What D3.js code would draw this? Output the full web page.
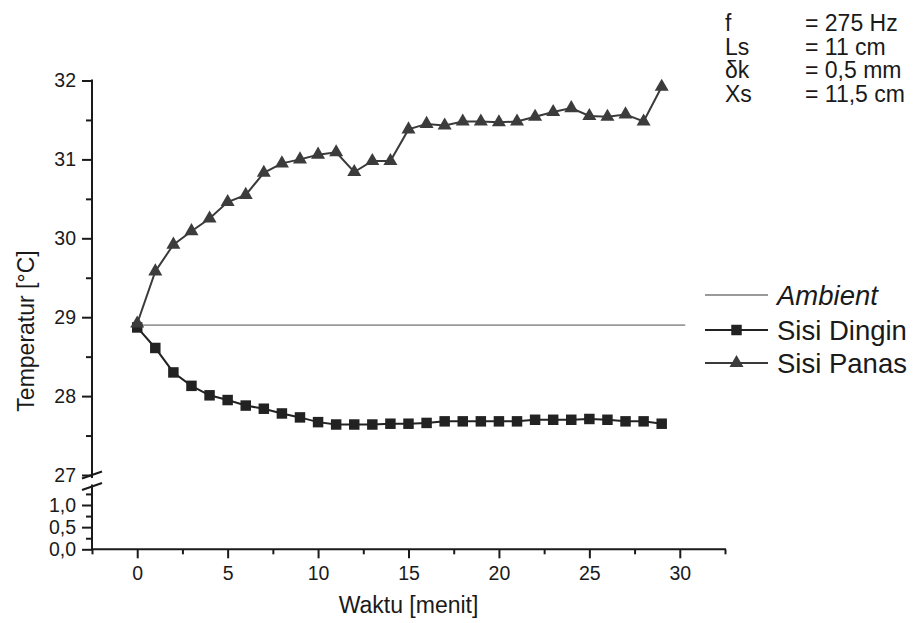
<!DOCTYPE html>
<html>
<head>
<meta charset="utf-8">
<script src="https://cdn.jsdelivr.net/npm/d3@7"></script>
<style>
  body { margin: 0; background: #fff; }
  svg { display: block; }
  text { font-family: "Liberation Sans", Arial, sans-serif; }
</style>
</head>
<body>
<svg id="chart" width="916" height="623"></svg>
<script>
// Measurement time (minutes)
const minutes = [0, 1, 2, 3, 4, 5, 6, 7, 8, 9, 10, 11, 12, 13, 14,
                 15, 16, 17, 18, 19, 20, 21, 22, 23, 24, 25, 26, 27, 28, 29];
// Hot side temperature (°C)
const hotSide = [28.92, 29.58, 29.92, 30.09, 30.25, 30.46, 30.55, 30.83, 30.95, 31.00,
                 31.06, 31.09, 30.84, 30.98, 30.98, 31.38, 31.45, 31.43, 31.48, 31.48,
                 31.47, 31.48, 31.54, 31.60, 31.65, 31.55, 31.54, 31.57, 31.48, 31.92];
// Cold side temperature (°C)
const coldSide = [28.87, 28.61, 28.30, 28.13, 28.01, 27.95, 27.88, 27.84, 27.78, 27.73,
                  27.67, 27.64, 27.64, 27.64, 27.65, 27.65, 27.66, 27.68, 27.68, 27.68,
                  27.68, 27.68, 27.70, 27.70, 27.70, 27.71, 27.70, 27.68, 27.68, 27.65];
// Ambient reference line
const ambientMinutes = [0, 30.3];
const ambientTemp = [28.9, 28.9];

const xMajorTicks = [0, 5, 10, 15, 20, 25, 30];
const xMinorTicks = [-2.5, 2.5, 7.5, 12.5, 17.5, 22.5, 27.5, 32.5];
const upperMajorTicks = [27, 28, 29, 30, 31, 32];
const upperMinorTicks = [27.5, 28.5, 29.5, 30.5, 31.5];
const lowerMajorTicks = [0, 0.5, 1.0];
const lowerMinorTicks = [0.25, 0.75, 1.25];

const paramNames = ["f", "Ls", "\u03B4k", "Xs"];
const paramValues = ["= 275 Hz", "= 11 cm", "= 0,5 mm", "= 11,5 cm"];
const legendLabels = ["Ambient", "Sisi Dingin", "Sisi Panas"];

const svg = d3.select("#chart");
const ink = "#1a1a1a";
const tickFont = "19.5px";

// Scales: one x scale, y split into an upper (27–32) and a lower (0–1) segment
const x = d3.scaleLinear().domain([-2.5, 32.5]).range([92, 725]);
const yUp = d3.scaleLinear().domain([27, 32]).range([475, 80.5]);
const yLow = d3.scaleLinear().domain([0, 1]).range([549.3, 505]);

const upperBottom = 478;   // where the upper segment of the y axis stops
const lowerTop = 484.5;    // where the lower segment restarts

const commaFmt = d3.formatLocale({decimal: ",", thousands: ".", grouping: [3], currency: ["", ""]}).format(".1f");

function styleAxis(g) {
  g.select(".domain").remove();
  g.selectAll(".tick line").attr("stroke", ink).attr("stroke-width", 2);
  g.selectAll(".tick text").attr("fill", ink).style("font-size", tickFont)
    .style("font-family", "'Liberation Sans', Arial, sans-serif");
}

// X axis
const xAxisY = yLow(0);
svg.append("g").attr("transform", `translate(0,${xAxisY})`)
  .call(d3.axisBottom(x).tickValues(xMajorTicks).tickSize(9).tickPadding(8).tickFormat(d3.format("d")))
  .call(styleAxis);
svg.append("g").attr("transform", `translate(0,${xAxisY})`)
  .call(d3.axisBottom(x).tickValues(xMinorTicks).tickSize(5).tickFormat(""))
  .call(styleAxis);
svg.append("line")
  .attr("x1", x(-2.5) - 1).attr("x2", x(32.5) + 1)
  .attr("y1", xAxisY).attr("y2", xAxisY)
  .attr("stroke", ink).attr("stroke-width", 2);

// Y axis, upper segment
const axisX = x(-2.5);
svg.append("g").attr("transform", `translate(${axisX},0)`)
  .call(d3.axisLeft(yUp).tickValues(upperMajorTicks).tickSize(10).tickPadding(6).tickFormat(d3.format("d")))
  .call(styleAxis);
svg.append("g").attr("transform", `translate(${axisX},0)`)
  .call(d3.axisLeft(yUp).tickValues(upperMinorTicks).tickSize(6).tickFormat(""))
  .call(styleAxis);
svg.append("line")
  .attr("x1", axisX).attr("x2", axisX)
  .attr("y1", yUp(32) - 1).attr("y2", upperBottom)
  .attr("stroke", ink).attr("stroke-width", 2);

// Y axis, lower segment
svg.append("g").attr("transform", `translate(${axisX},0)`)
  .call(d3.axisLeft(yLow).tickValues(lowerMajorTicks).tickSize(10).tickPadding(6).tickFormat(commaFmt))
  .call(styleAxis);
svg.append("g").attr("transform", `translate(${axisX},0)`)
  .call(d3.axisLeft(yLow).tickValues(lowerMinorTicks).tickSize(6).tickFormat(""))
  .call(styleAxis);
svg.append("line")
  .attr("x1", axisX).attr("x2", axisX)
  .attr("y1", lowerTop).attr("y2", xAxisY)
  .attr("stroke", ink).attr("stroke-width", 2);

// Axis break marks
[upperBottom - 3, lowerTop + 2].forEach(cy => {
  svg.append("line")
    .attr("x1", axisX - 10).attr("y1", cy + 3.5)
    .attr("x2", axisX + 10).attr("y2", cy - 3.5)
    .attr("stroke", ink).attr("stroke-width", 2);
});

// Axis titles
svg.append("text")
  .attr("x", (x(-2.5) + x(32.5)) / 2).attr("y", 613)
  .attr("text-anchor", "middle").attr("fill", ink)
  .style("font-size", "23px").text("Waktu [menit]");
svg.append("text")
  .attr("transform", "translate(34,331) rotate(-90)")
  .attr("text-anchor", "middle").attr("fill", ink)
  .style("font-size", "23px").text("Temperatur [°C]");

// Series
const ambientLine = d3.line().x((d, i) => x(ambientMinutes[i])).y(d => yUp(d));
svg.append("path").datum(ambientTemp)
  .attr("d", ambientLine).attr("fill", "none")
  .attr("stroke", "#9a9a9a").attr("stroke-width", 1.8);

const seriesLine = d3.line().x((d, i) => x(minutes[i])).y(d => yUp(d));

svg.append("path").datum(coldSide)
  .attr("d", seriesLine).attr("fill", "none")
  .attr("stroke", "#222").attr("stroke-width", 2);
svg.append("path").datum(hotSide)
  .attr("d", seriesLine).attr("fill", "none")
  .attr("stroke", "#3a3a3a").attr("stroke-width", 2);

const squareSym = d3.symbol(d3.symbolSquare, 110);
const triSym = d3.symbol(d3.symbolTriangle, 85);

svg.append("g").selectAll("path").data(coldSide).join("path")
  .attr("d", squareSym)
  .attr("transform", (d, i) => `translate(${x(minutes[i])},${yUp(d)})`)
  .attr("fill", "#222");
svg.append("g").selectAll("path").data(hotSide).join("path")
  .attr("d", triSym)
  .attr("transform", (d, i) => `translate(${x(minutes[i])},${yUp(d)})`)
  .attr("fill", "#3c3c3c");

// Legend
const legendRows = [295, 330, 363];
const lg = svg.append("g");
legendLabels.forEach((label, i) => {
  const cy = legendRows[i];
  lg.append("line").attr("x1", 705).attr("x2", 768).attr("y1", cy).attr("y2", cy)
    .attr("stroke", i === 0 ? "#9a9a9a" : (i === 1 ? "#222" : "#3a3a3a"))
    .attr("stroke-width", i === 0 ? 1.8 : 2);
  if (i === 1) lg.append("path").attr("d", squareSym).attr("transform", `translate(736.5,${cy})`).attr("fill", "#222");
  if (i === 2) lg.append("path").attr("d", triSym).attr("transform", `translate(736.5,${cy})`).attr("fill", "#3c3c3c");
  lg.append("text").attr("x", 777).attr("y", cy + 10)
    .attr("fill", ink).style("font-size", "27.5px")
    .style("font-style", i === 0 ? "italic" : "normal")
    .text(label);
});

// Experiment parameters
const paramRows = [31, 54.5, 78, 101.5];
paramNames.forEach((name, i) => {
  svg.append("text").attr("x", 725).attr("y", paramRows[i])
    .attr("fill", ink).style("font-size", "23px").text(name);
  svg.append("text").attr("x", 805).attr("y", paramRows[i])
    .attr("fill", ink).style("font-size", "23px").text(paramValues[i]);
});
</script>
</body>
</html>
